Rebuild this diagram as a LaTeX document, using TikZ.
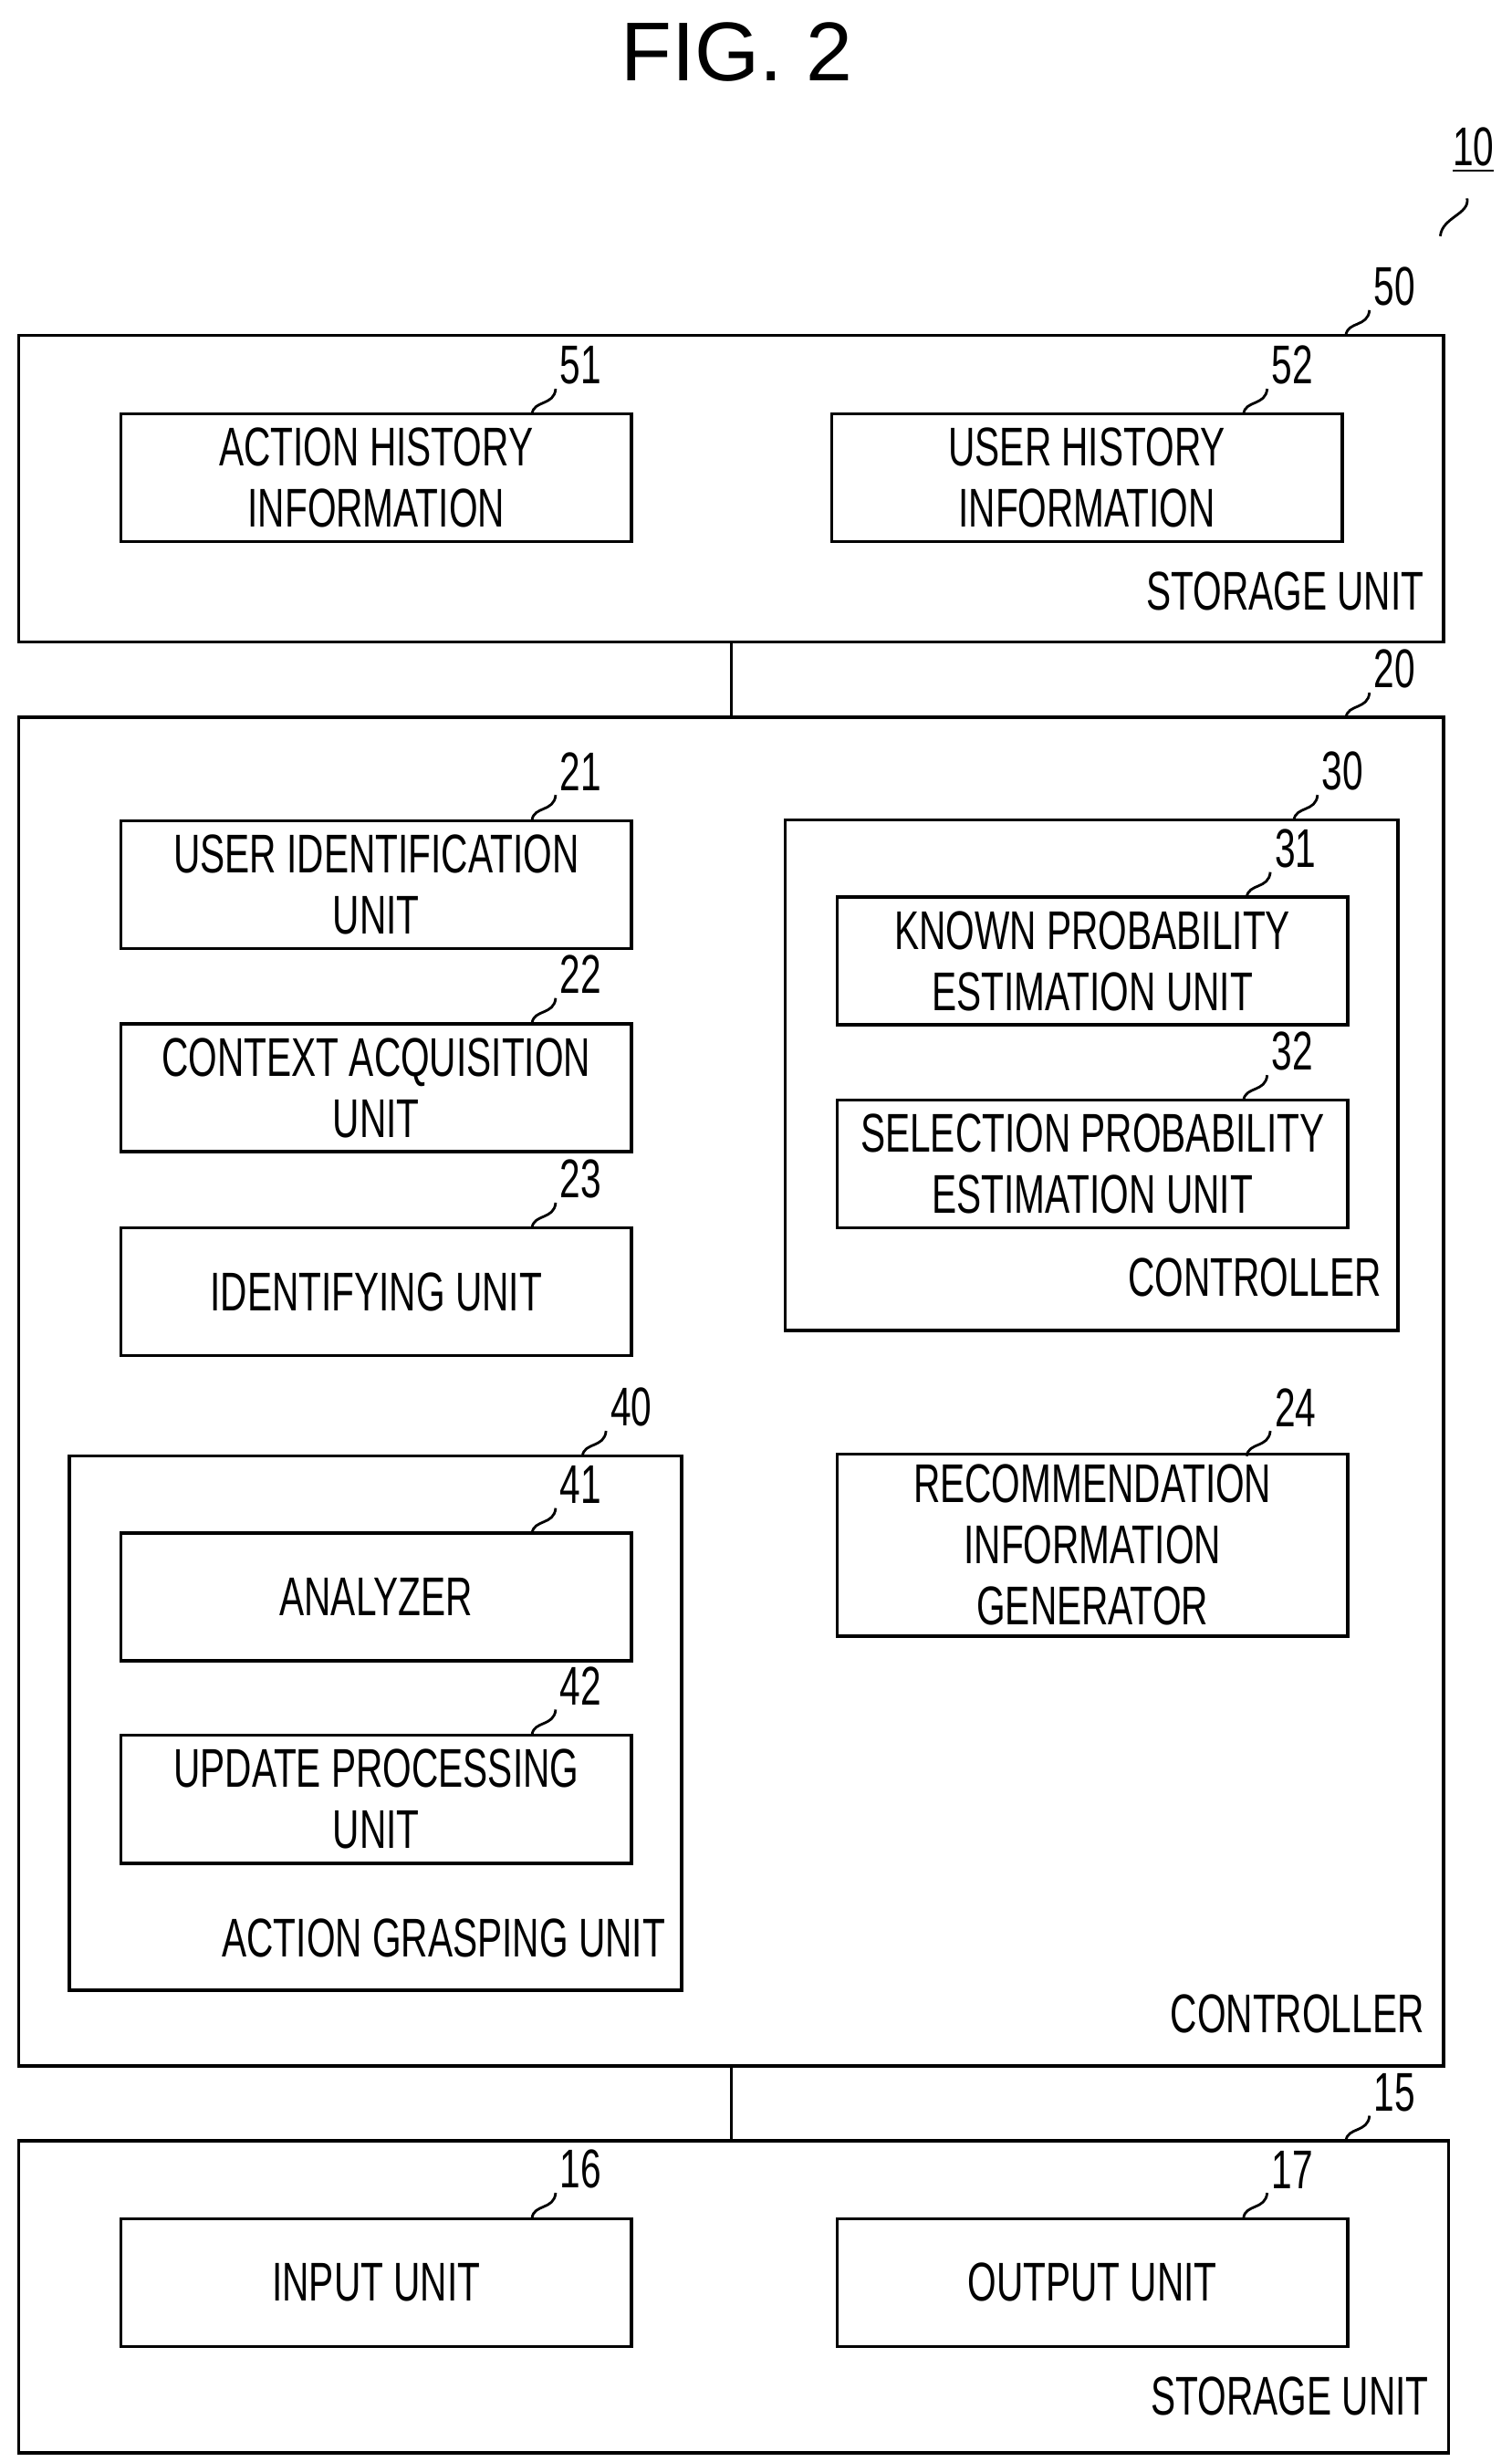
\documentclass[tikz,border=0pt]{standalone}
\usepackage{fontspec}
\setmainfont{Liberation Sans}
\newfontfamily\labfont[FakeStretch=0.68]{Liberation Sans}
\tikzset{
  blk/.style={draw, line width=1pt, minimum width=5.59cm, minimum height=1.40cm,
    align=center, font=\labfont\fontsize{17}{19}\selectfont},
  big/.style={draw, line width=1pt},
  title/.style={anchor=south east, inner sep=0pt, font=\labfont\fontsize{17}{19}\selectfont},
  num/.style={anchor=south west, inner sep=1pt, font=\labfont\fontsize{17}{19}\selectfont}
}
\newcommand{\tagnum}[3]{%
  \draw[line width=0.8pt] (#1,#2) .. controls ({#1+1},{#2-9}) and ({#1+14},{#2-5}) .. ({#1+15},{#2-16}) node[num] {#3};}
\begin{document}
\begin{tikzpicture}[x=0.01725cm, y=-0.01725cm]
\useasboundingbox (0,0) rectangle (960,1564);
\node[font=\fontsize{26}{28}\selectfont] (fig) at (468,33) {FIG. 2};
% overall reference
\node[num, anchor=south] (ten) at (936,112) {\underline{10}};
\draw[line width=0.8pt] (932,126) .. controls (934,136) and (916,138) .. (915,150);

% storage unit
\node[big, minimum width=15.61cm, minimum height=3.36cm] (store) at (464.5,310.5) {};
\node[title] at (905,388) {STORAGE UNIT};
\tagnum{855}{213}{50}
\node[blk] (acthist) at (239,303.5) {ACTION HISTORY\\INFORMATION};
\tagnum{338}{263}{51}
\node[blk] (userhist) at (690.5,303.5) {USER HISTORY\\INFORMATION};
\tagnum{790}{263}{52}

% controller
\node[big, minimum width=15.61cm, minimum height=14.77cm] (ctrl) at (464.5,884) {};
\node[title] at (905,1292) {CONTROLLER};
\tagnum{855}{456}{20}
\node[blk] (userid) at (239,562) {USER IDENTIFICATION\\UNIT};
\tagnum{338}{521}{21}
\node[blk] (context) at (239,691) {CONTEXT ACQUISITION\\UNIT};
\tagnum{338}{650}{22}
\node[blk] (ident) at (239,820.5) {IDENTIFYING UNIT};
\tagnum{338}{780}{23}

\node[big, minimum width=6.71cm, minimum height=5.59cm] (probctrl) at (693.5,683) {};
\node[title] at (878,824) {CONTROLLER};
\tagnum{822}{521}{30}
\node[blk] (known) at (694,610.5) {KNOWN PROBABILITY\\ESTIMATION UNIT};
\tagnum{792}{570}{31}
\node[blk] (select) at (694,739.5) {SELECTION PROBABILITY\\ESTIMATION UNIT};
\tagnum{790}{699}{32}

\node[big, minimum width=6.71cm, minimum height=5.85cm] (grasp) at (238.5,1094.5) {};
\node[title] at (423,1244) {ACTION GRASPING UNIT};
\tagnum{370}{925}{40}
\node[blk] (analyzer) at (239,1014.5) {ANALYZER};
\tagnum{338}{974}{41}
\node[blk] (update) at (239,1143) {UPDATE PROCESSING\\UNIT};
\tagnum{338}{1102}{42}

\node[blk, minimum height=1.95cm] (recomm) at (694,981.5) {RECOMMENDATION\\INFORMATION\\GENERATOR};
\tagnum{792}{925}{24}

% input / output
\node[big, minimum width=15.66cm, minimum height=3.42cm] (io) at (466,1459) {};
\node[title] at (908,1535) {STORAGE UNIT};
\tagnum{855}{1360}{15}
\node[blk] (input) at (239,1450) {INPUT UNIT};
\tagnum{338}{1409}{16}
\node[blk] (output) at (694,1450) {OUTPUT UNIT};
\tagnum{790}{1409}{17}

\draw[line width=1pt] (store.south) -- (ctrl.north);
\draw[line width=1pt] (ctrl.south) -- (ctrl.south |- io.north);
\end{tikzpicture}
\end{document}
